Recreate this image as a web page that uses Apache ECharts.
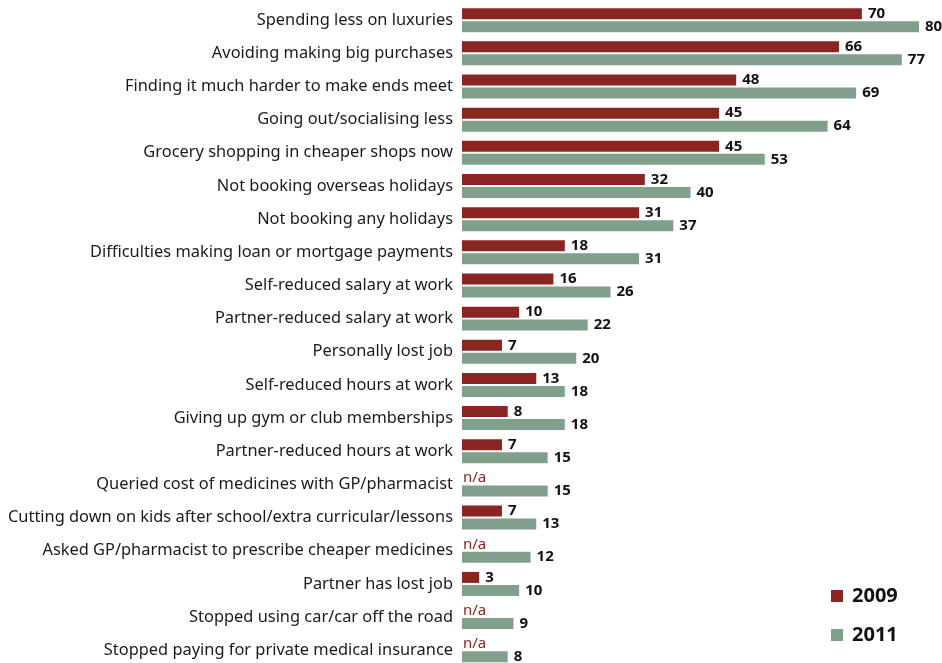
<!DOCTYPE html>
<html><head><meta charset="utf-8">
<script src="https://cdn.jsdelivr.net/npm/echarts@6/dist/echarts.min.js"></script>
<style>html,body{margin:0;padding:0;background:#fff;overflow:hidden}#c{width:942px;height:672px}</style>
</head><body><div id="c"></div>
<script>
const categories = [
  "Spending less on luxuries",
  "Avoiding making big purchases",
  "Finding it much harder to make ends meet",
  "Going out/socialising less",
  "Grocery shopping in cheaper shops now",
  "Not booking overseas holidays",
  "Not booking any holidays",
  "Difficulties making loan or mortgage payments",
  "Self-reduced salary at work",
  "Partner-reduced salary at work",
  "Personally lost job",
  "Self-reduced hours at work",
  "Giving up gym or club memberships",
  "Partner-reduced hours at work",
  "Queried cost of medicines with GP/pharmacist",
  "Cutting down on kids after school/extra curricular/lessons",
  "Asked GP/pharmacist to prescribe cheaper medicines",
  "Partner has lost job",
  "Stopped using car/car off the road",
  "Stopped paying for private medical insurance"
];
const values2009 = [70,66,48,45,45,32,31,18,16,10,7,13,8,7,null,7,null,3,null,null];
const values2011 = [80,77,69,64,53,40,37,31,26,22,20,18,18,15,15,13,12,10,9,8];
const RED = '#8B2522', GREEN = '#81A08C';

const data2009 = values2009.map(v => v === null
  ? {value: 0, label: {show: true, position: 'right', distance: 1, formatter: 'n/a', color: RED, fontWeight: 'normal', fontSize: 15}}
  : v);

const chart = echarts.init(document.getElementById('c'));
chart.setOption({
  animation: false,
  textStyle: {fontFamily: 'Noto Sans'},
  grid: {left: 462, top: 3.6, width: 457, height: 663.2, containLabel: false},
  legend: {
    orient: 'vertical', left: 826, top: 581, itemGap: 19,
    icon: 'rect', itemWidth: 12, itemHeight: 12,
    textStyle: {fontSize: 20, fontWeight: 'bold', color: '#111', padding: [0,0,0,4]},
    data: ['2009', '2011']
  },
  xAxis: {type: 'value', min: 0, max: 80, show: false},
  yAxis: {
    type: 'category', data: categories, inverse: true,
    axisLine: {show: false}, axisTick: {show: false},
    axisLabel: {fontSize: 16.4, color: '#1a1a1a', margin: 9}
  },
  series: [
    {name: '2009', type: 'bar', data: data2009, barWidth: 11, barGap: '18%',
     itemStyle: {color: RED},
     label: {show: true, position: 'right', distance: 6, fontSize: 15, fontWeight: 'bold', color: '#111'}},
    {name: '2011', type: 'bar', data: values2011, barWidth: 11,
     itemStyle: {color: GREEN},
     label: {show: true, position: 'right', distance: 6, fontSize: 15, fontWeight: 'bold', color: '#111'}}
  ]
});
</script></body></html>
